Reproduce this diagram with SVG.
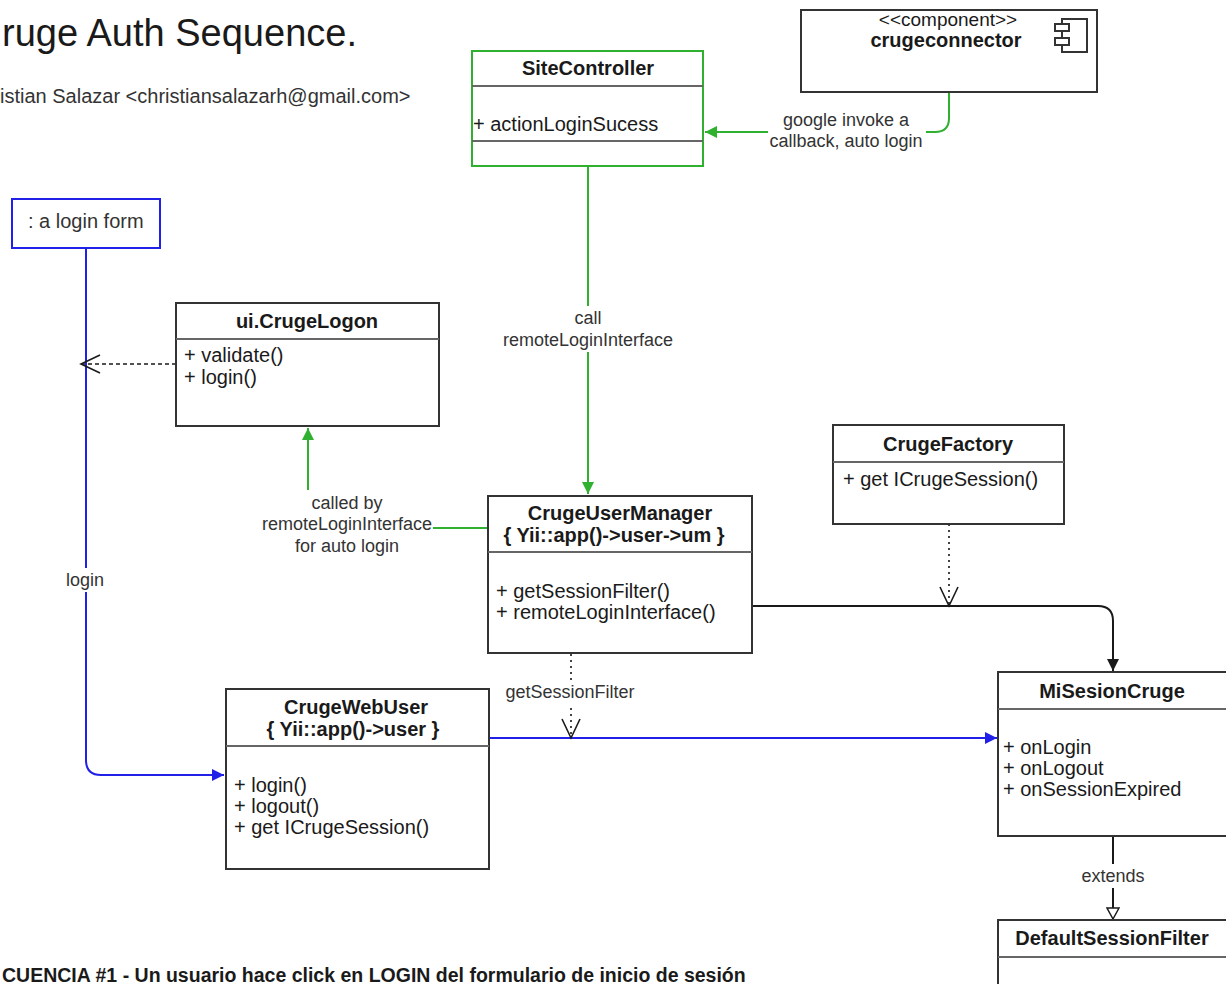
<svg xmlns="http://www.w3.org/2000/svg" width="1226" height="984" viewBox="0 0 1226 984">
  <style>
    text { font-family: "Liberation Sans", Arial, Helvetica, sans-serif; fill: #1a1a1a; }
    .title { font-size: 20px; font-weight: bold; text-anchor: middle; }
    .member { font-size: 20px; }
    .label { font-size: 18px; text-anchor: middle; fill: #333; }
    .box { fill: #fff; stroke: #333; stroke-width: 2; }
    .sep { stroke: #666; stroke-width: 2; }
    .green { fill: none; stroke: #2fb02f; stroke-width: 2; }
    .blue { fill: none; stroke: #2020e8; stroke-width: 2; }
    .black { fill: none; stroke: #1a1a1a; stroke-width: 2; }
    .dash { fill: none; stroke: #1a1a1a; stroke-width: 1.6; stroke-dasharray: 4 3; }
    .dot { fill: none; stroke: #444; stroke-width: 2; stroke-dasharray: 2 4; }
    .lblbg { fill: #fff; }
  </style>
  <defs>
    <marker id="arrowGreen" markerUnits="userSpaceOnUse" markerWidth="14" markerHeight="12" refX="12" refY="6" orient="auto">
      <path d="M0,0 L12,6 L0,12 z" fill="#2fb02f"/>
    </marker>
    <marker id="arrowBlue" markerUnits="userSpaceOnUse" markerWidth="14" markerHeight="12" refX="12" refY="6" orient="auto">
      <path d="M0,0 L12,6 L0,12 z" fill="#2020e8"/>
    </marker>
    <marker id="arrowBlack" markerUnits="userSpaceOnUse" markerWidth="14" markerHeight="12" refX="12" refY="6" orient="auto">
      <path d="M0,0 L12,6 L0,12 z" fill="#1a1a1a"/>
    </marker>
    <marker id="vee" markerUnits="userSpaceOnUse" markerWidth="24" markerHeight="22" refX="20" refY="11" orient="auto">
      <path d="M1,2 L20,11 L1,20" fill="none" stroke="#1a1a1a" stroke-width="1.6"/>
    </marker>
    <marker id="hollowTri" markerUnits="userSpaceOnUse" markerWidth="14" markerHeight="14" refX="12" refY="7" orient="auto">
      <path d="M1,1 L12,7 L1,13 z" fill="#fff" stroke="#1a1a1a" stroke-width="1.5"/>
    </marker>
  </defs>

  <!-- heading -->
  <g id="heading">
    <text x="2" y="46" style="font-size:38px">ruge Auth Sequence.</text>
    <text x="0" y="103" style="font-size:20px; fill:#333">istian Salazar &lt;christiansalazarh@gmail.com&gt;</text>
  </g>

  <!-- connectors -->
  <g id="connectors">
    <path class="green" d="M949 92 V118 Q949 132 935 132 H705" marker-end="url(#arrowGreen)"/>
    <path class="green" d="M588 166 V494" marker-end="url(#arrowGreen)"/>
    <path class="green" d="M488 528 H308 V428" marker-end="url(#arrowGreen)"/>
    <path class="blue" d="M86 248 V760 Q86 775 101 775 H224" marker-end="url(#arrowBlue)"/>
    <path class="dash" d="M176 364 H81" marker-end="url(#vee)"/>
    <path class="black" d="M752 606 H1098 Q1113 606 1113 621 V671" marker-end="url(#arrowBlack)"/>
    <path class="dot" d="M949 524 V606" marker-end="url(#vee)"/>
    <path class="blue" d="M489 738 H997" marker-end="url(#arrowBlue)"/>
    <path class="dot" d="M571 654 V738" marker-end="url(#vee)"/>
    <path class="black" d="M1113 836 V919" marker-end="url(#hollowTri)"/>

    <!-- connector labels -->
    <rect class="lblbg" x="768" y="108" width="158" height="44"/>
    <text class="label" x="846" y="126">google invoke a</text>
    <text class="label" x="846" y="147">callback, auto login</text>

    <rect class="lblbg" x="500" y="306" width="176" height="46"/>
    <text class="label" x="588" y="324">call</text>
    <text class="label" x="588" y="346">remoteLoginInterface</text>

    <rect class="lblbg" x="262" y="490" width="171" height="66"/>
    <text class="label" x="347" y="509">called by</text>
    <text class="label" x="347" y="530">remoteLoginInterface</text>
    <text class="label" x="347" y="552">for auto login</text>

    <rect class="lblbg" x="64" y="568" width="44" height="24"/>
    <text class="label" x="85" y="586">login</text>

    <rect class="lblbg" x="505" y="680" width="132" height="24"/>
    <text class="label" x="570" y="698">getSessionFilter</text>

    <rect class="lblbg" x="1078" y="864" width="70" height="24"/>
    <text class="label" x="1113" y="882">extends</text>
  </g>

  <!-- nodes -->
  <g id="siteController">
    <rect x="472" y="51" width="231" height="115" fill="#fff" stroke="#2fb02f" stroke-width="2"/>
    <line class="sep" x1="472" y1="86" x2="703" y2="86"/>
    <line class="sep" x1="472" y1="141" x2="703" y2="141"/>
    <text class="title" x="588" y="75">SiteController</text>
    <text class="member" x="473" y="131">+ actionLoginSucess</text>
  </g>

  <g id="crugeconnector">
    <rect class="box" x="801" y="10" width="296" height="82"/>
    <text class="member" x="948" y="26" style="text-anchor:middle; font-size:19px">&lt;&lt;component&gt;&gt;</text>
    <text class="title" x="946" y="47">crugeconnector</text>
    <rect x="1062" y="19" width="25" height="33" fill="#fff" stroke="#333" stroke-width="2"/>
    <rect x="1055" y="24" width="14" height="7" fill="#fff" stroke="#333" stroke-width="2"/>
    <rect x="1055" y="38" width="14" height="7" fill="#fff" stroke="#333" stroke-width="2"/>
  </g>

  <g id="loginForm">
    <rect x="12" y="199" width="148" height="49" fill="#fff" stroke="#2020e8" stroke-width="2"/>
    <text class="member" x="28" y="228" style="fill:#333">: a login form</text>
  </g>

  <g id="crugeLogon">
    <rect class="box" x="176" y="303" width="263" height="123"/>
    <line class="sep" x1="176" y1="339" x2="439" y2="339"/>
    <text class="title" x="307" y="328">ui.CrugeLogon</text>
    <text class="member" x="184" y="362">+ validate()</text>
    <text class="member" x="184" y="384">+ login()</text>
  </g>

  <g id="crugeUserManager">
    <rect class="box" x="488" y="496" width="264" height="157"/>
    <line class="sep" x1="488" y1="552" x2="752" y2="552"/>
    <text class="title" x="620" y="520">CrugeUserManager</text>
    <text class="title" x="614" y="542">{ Yii::app()-&gt;user-&gt;um }</text>
    <text class="member" x="496" y="598">+ getSessionFilter()</text>
    <text class="member" x="496" y="619">+ remoteLoginInterface()</text>
  </g>

  <g id="crugeFactory">
    <rect class="box" x="833" y="425" width="231" height="99"/>
    <line class="sep" x1="833" y1="462" x2="1064" y2="462"/>
    <text class="title" x="948" y="451">CrugeFactory</text>
    <text class="member" x="843" y="486">+ get ICrugeSession()</text>
  </g>

  <g id="crugeWebUser">
    <rect class="box" x="226" y="689" width="263" height="180"/>
    <line class="sep" x1="226" y1="746" x2="489" y2="746"/>
    <text class="title" x="356" y="714">CrugeWebUser</text>
    <text class="title" x="353" y="736">{ Yii::app()-&gt;user }</text>
    <text class="member" x="234" y="792">+ login()</text>
    <text class="member" x="234" y="813">+ logout()</text>
    <text class="member" x="234" y="834">+ get ICrugeSession()</text>
  </g>

  <g id="miSesionCruge">
    <rect class="box" x="998" y="672" width="242" height="164"/>
    <line class="sep" x1="998" y1="709" x2="1240" y2="709"/>
    <text class="title" x="1112" y="698">MiSesionCruge</text>
    <text class="member" x="1003" y="754">+ onLogin</text>
    <text class="member" x="1003" y="775">+ onLogout</text>
    <text class="member" x="1003" y="796">+ onSessionExpired</text>
  </g>

  <g id="defaultSessionFilter">
    <rect class="box" x="998" y="920" width="242" height="80"/>
    <line class="sep" x1="998" y1="957" x2="1240" y2="957"/>
    <text class="title" x="1112" y="945">DefaultSessionFilter</text>
  </g>

  <!-- footer caption -->
  <g id="caption">
    <text x="2" y="982" style="font-size:19.5px; font-weight:bold">CUENCIA #1 -  Un usuario hace click en LOGIN del formulario de inicio de sesión</text>
  </g>
</svg>
